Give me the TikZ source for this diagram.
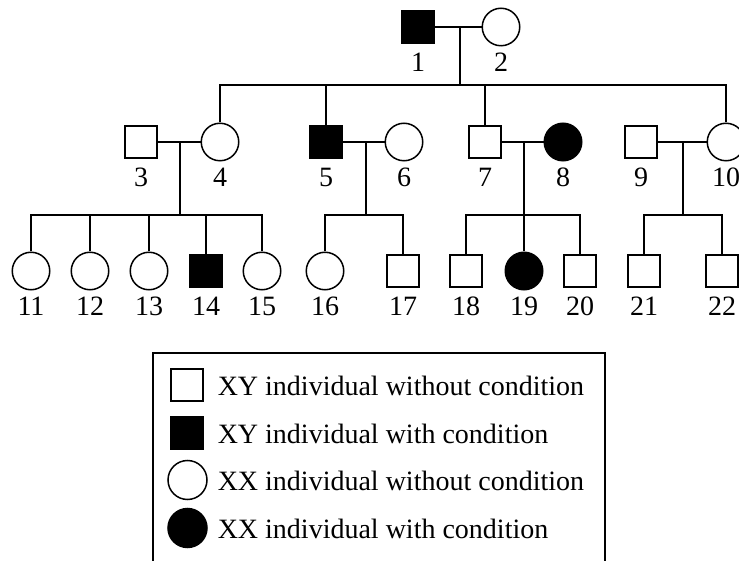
\documentclass[tikz,border=0pt]{standalone}
\usepackage{fontspec}
\setmainfont{Liberation Serif}
\usepackage{tikz}
\tikzset{
  xy/.style={draw, rectangle, minimum size=32pt, inner sep=0pt, fill=white},
  xyaff/.style={xy, fill=black},
  xx/.style={draw, circle, minimum size=37.5pt, inner sep=0pt, fill=white},
  xxaff/.style={xx, fill=black},
  num/.style={font=\fontsize{28}{33}\selectfont, inner sep=0pt, anchor=base},
  keytext/.style={font=\fontsize{28}{33}\selectfont, inner sep=0pt, anchor=base west}
}
\begin{document}
\begin{tikzpicture}[x=1pt, y=-1pt, line width=1.5pt]
     \useasboundingbox (0,0) rectangle (739,561);
     \clip (0,0) rectangle (739,561);

     \node[xyaff] (n1) at (418,27) {};
     \node[xx] (n2) at (501,27) {};

     \node[xy] (n3) at (141,142) {};
     \node[xx] (n4) at (220,142) {};
     \node[xyaff] (n5) at (326,142) {};
     \node[xx] (n6) at (404,142) {};
     \node[xy] (n7) at (485,142) {};
     \node[xxaff] (n8) at (563,142) {};
     \node[xy] (n9) at (641,142) {};
     \node[xx] (n10) at (726,142) {};

     \node[xx] (n11) at (31,271) {};
     \node[xx] (n12) at (90,271) {};
     \node[xx] (n13) at (149,271) {};
     \node[xyaff] (n14) at (206,271) {};
     \node[xx] (n15) at (262,271) {};
     \node[xx] (n16) at (325,271) {};
     \node[xy] (n17) at (403,271) {};
     \node[xy] (n18) at (466,271) {};
     \node[xxaff] (n19) at (524,271) {};
     \node[xy] (n20) at (580,271) {};
     \node[xy] (n21) at (644,271) {};
     \node[xy] (n22) at (722,271) {};

     \foreach \i in {1,...,22}
       \node[num] (l\i) at ([yshift=-45pt]n\i.center) {\i};

     \coordinate (m12) at (460,27);
     \coordinate (s12) at (460,85);
     \draw (n1) -- (n2);
     \draw (m12) -- (s12);
     \draw (n4) |- (s12) -| (n10);
     \draw (n5) -- (n5 |- s12);
     \draw (n7) -- (n7 |- s12);

     \coordinate (m34) at (180,142);
     \coordinate (s34) at (180,215);
     \draw (n3) -- (n4);
     \draw (m34) -- (s34);
     \draw (n11) |- (s34) -| (n15);
     \draw (n12) -- (n12 |- s34);
     \draw (n13) -- (n13 |- s34);
     \draw (n14) -- (n14 |- s34);

     \coordinate (m56) at (366,142);
     \coordinate (s56) at (366,215);
     \draw (n5) -- (n6);
     \draw (m56) -- (s56);
     \draw (n16) |- (s56) -| (n17);

     \coordinate (m78) at (524,142);
     \coordinate (s78) at (524,215);
     \draw (n7) -- (n8);
     \draw (m78) -- (n19);
     \draw (n18) |- (s78) -| (n20);

     \coordinate (m910) at (683,142);
     \coordinate (s910) at (683,215);
     \draw (n9) -- (n10);
     \draw (m910) -- (s910);
     \draw (n21) |- (s910) -| (n22);

     \node[draw, minimum width=452pt, minimum height=222pt, inner sep=0pt] (key) at (379,464) {};
     \node[xy] (k1) at (187,385) {};
     \node[xyaff] (k2) at (187,433) {};
     \node[xx, minimum size=39pt] (k3) at (187.5,480) {};
     \node[xxaff, minimum size=39pt] (k4) at (187.5,528) {};
     \node[keytext] (t1) at (217,395) {XY individual without condition};
     \node[keytext] (t2) at (217,443) {XY individual with condition};
     \node[keytext] (t3) at (217,490) {XX individual without condition};
     \node[keytext] (t4) at (217,538) {XX individual with condition};
   \end{tikzpicture}
\end{document}
